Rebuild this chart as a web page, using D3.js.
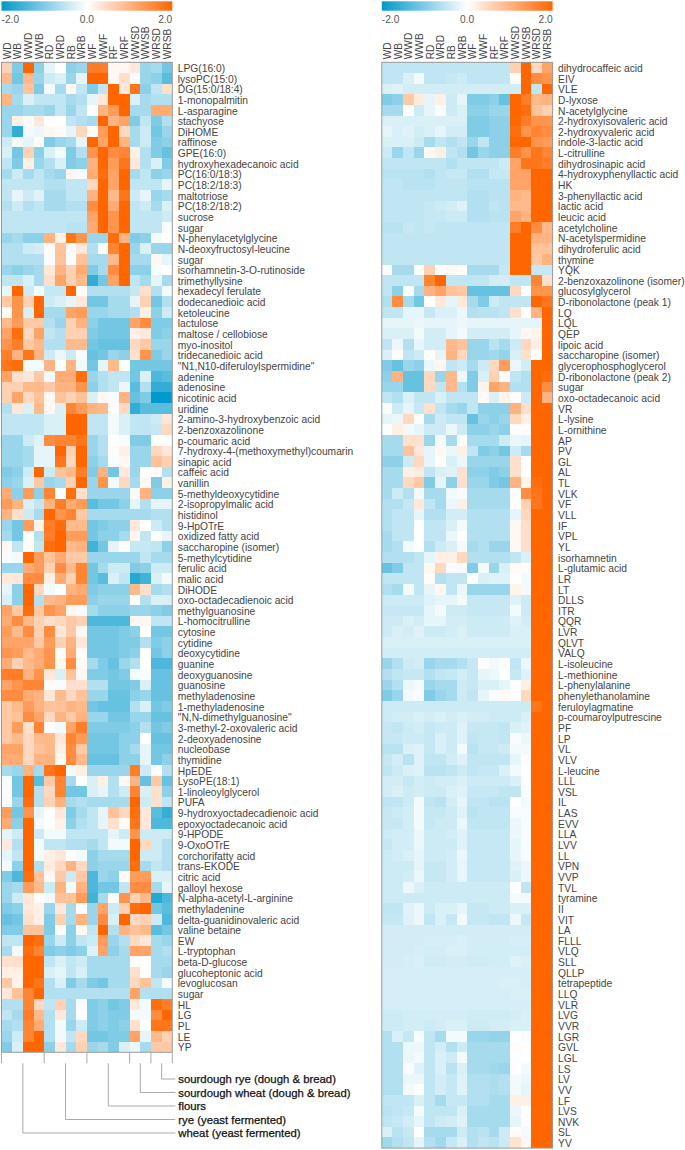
<!DOCTYPE html>
<html>
<head>
<meta charset="utf-8">
<script src="https://cdnjs.cloudflare.com/ajax/libs/d3/7.8.5/d3.min.js"></script>
<style>
  body { margin: 0; background: #fff; }
  svg { display: block; }
  text { font-family: "Liberation Sans", Arial, sans-serif; }
</style>
</head>
<body>
<svg id="chart" width="685" height="1150"></svg>
<script>
const columns = ['WD', 'WB', 'WWD', 'WWB', 'RD', 'WRD', 'RB', 'WRB', 'WF', 'WWF', 'RF', 'WRF', 'WWSD', 'WWSB', 'WRSD', 'WRSB'];
const legendTicks = [-2, 0, 2];
const groupNames = ['wheat (yeast fermented)', 'rye (yeast fermented)', 'flours', 'sourdough wheat (dough & bread)', 'sourdough rye (dough & bread)'];
const groupColumns = [['WD', 'WWB'], ['RD', 'WRB'], ['WF', 'WRF'], ['WWSD', 'WWSB'], ['WRSD', 'WRSB']];

const leftLabels = ['LPG(16:0)', 'lysoPC(15:0)', 'DG(15:0/18:4)', '1-monopalmitin', 'L-asparagine', 'stachyose', 'DiHOME', 'raffinose', 'GPE(16:0)', 'hydroxyhexadecanoic acid', 'PC(16:0/18:3)', 'PC(18:2/18:3)', 'maltotriose', 'PC(18:2/18:2)', 'sucrose', 'sugar', 'N-phenylacetylglycine', 'N-deoxyfructosyl-leucine', 'sugar', 'isorhamnetin-3-O-rutinoside', 'trimethyllysine', 'hexadecyl ferulate', 'dodecanedioic acid', 'ketoleucine', 'lactulose', 'maltose / cellobiose', 'myo-inositol', 'tridecanedioic acid', '"N1,N10-diferuloylspermidine"', 'adenine', 'adenosine', 'nicotinic acid', 'uridine', '2-amino-3-hydroxybenzoic acid', '2-benzoxazolinone', 'p-coumaric acid', '7-hydroxy-4-(methoxymethyl)coumarin', 'sinapic acid', 'caffeic acid', 'vanillin', '5-methyldeoxycytidine', '2-isopropylmalic acid', 'histidinol', '9-HpOTrE', 'oxidized fatty acid', 'saccharopine (isomer)', '5-methylcytidine', 'ferulic acid', 'malic acid', 'DiHODE', 'oxo-octadecadienoic acid', 'methylguanosine', 'L-homocitrulline', 'cytosine', 'cytidine', 'deoxycytidine', 'guanine', 'deoxyguanosine', 'guanosine', 'methyladenosine', '1-methyladenosine', '"N,N-dimethylguanosine"', '3-methyl-2-oxovaleric acid', '2-deoxyadenosine', 'nucleobase', 'thymidine', 'HpEDE', 'LysoPE(18:1)', '1-linoleoylglycerol', 'PUFA', '9-hydroxyoctadecadienoic acid', 'epoxyoctadecanoic acid', '9-HPODE', '9-OxoOTrE', 'corchorifatty acid', 'trans-EKODE', 'citric acid', 'galloyl hexose', 'N-alpha-acetyl-L-arginine', 'methyladenine', 'delta-guanidinovaleric acid', 'valine betaine', 'EW', 'L-tryptophan', 'beta-D-glucose', 'glucoheptonic acid', 'levoglucosan', 'sugar', 'HL', 'LG', 'PL', 'LE', 'YP'];

const rightLabels = ['dihydrocaffeic acid', 'EIV', 'VLE', 'D-lyxose', 'N-acetylglycine', '2-hydroxyisovaleric acid', '2-hydroxyvaleric acid', 'indole-3-lactic acid', 'L-citrulline', 'dihydrosinapic acid', '4-hydroxyphenyllactic acid', 'HK', '3-phenyllactic acid', 'lactic acid', 'leucic acid', 'acetylcholine', 'N-acetylspermidine', 'dihydroferulic acid', 'thymine', 'YQK', '2-benzoxazolinone (isomer)', 'glucosylglycerol', 'D-ribonolactone (peak 1)', 'LQ', 'LQL', 'QEP', 'lipoic acid', 'saccharopine (isomer)', 'glycerophosphoglycerol', 'D-ribonolactone (peak 2)', 'sugar', 'oxo-octadecanoic acid', 'VR', 'L-lysine', 'L-ornithine', 'AP', 'PV', 'GL', 'AL', 'TL', 'VLK', 'VF', 'VLL', 'IF', 'VPL', 'YL', 'isorhamnetin', 'L-glutamic acid', 'LR', 'LT', 'DLLS', 'ITR', 'QQR', 'LVR', 'QLVT', 'VALQ', 'L-isoleucine', 'L-methionine', 'L-phenylalanine', 'phenylethanolamine', 'feruloylagmatine', 'p-coumaroylputrescine', 'PF', 'LP', 'VL', 'VLV', 'L-leucine', 'LLL', 'VSL', 'IL', 'LAS', 'EVV', 'LLA', 'LVV', 'LL', 'VPN', 'VVP', 'TVL', 'tyramine', 'II', 'VIT', 'LA', 'FLLL', 'VLQ', 'SLL', 'QLLP', 'tetrapeptide', 'LLQ', 'VLR', 'LVG', 'VVR', 'LGR', 'GVL', 'LGL', 'LS', 'LV', 'VV', 'LF', 'LVS', 'NVK', 'SL', 'YV'];

// z-scores, one row per metabolite
const leftValues = [
  [.6,-1,2,-.9,-.2,0,-.9,-.8,1.7,1.7,.1,.1,.3,-.8,-.7,-1.1],
  [.9,-1.1,.9,-.8,-.4,-.3,-.8,-.2,2,2,.1,.4,.05,-.8,-.9,-1.3],
  [-.7,-.8,.8,-1,-.1,-.7,.1,-.5,-1,-.5,2,.3,1.8,-.9,-.5,.4],
  [1,-.7,-.3,-.5,-.5,-.5,-.7,-.6,-.2,.3,2,2,-.3,-.7,-.6,-.6],
  [-.8,-.8,-.7,-.7,-.8,-.5,-.8,-.5,0,1,1.3,2,-.7,-.7,1.1,1.1],
  [-.8,.2,-.05,.3,0,0,-.5,-.6,-.7,2,1,1.2,-1,-.5,-1,-.6],
  [-.8,-1.6,-.1,-.15,.1,.05,-.2,.5,.05,1.3,2,.5,-.7,-.4,-1.1,-.8],
  [-.4,-.1,-.2,.02,-1,-.8,-.7,-.2,2,1.2,2,1,-.7,-.4,-1,-.9],
  [-.3,-1.1,.6,-.9,-.3,-.1,-1,-.6,1.4,2,1.5,1.6,.2,-.6,-1,-1.2],
  [-.5,-1,.2,-.8,-.6,-.3,-1,-.9,1,2,1.3,1.8,.3,-.6,-.3,-1],
  [-.7,-.4,-.7,-.5,-.7,-.8,.1,-.05,1.1,1.9,1.2,2,-.7,-.5,-.9,-.8],
  [-.5,-.5,-.5,-.5,-.6,-.6,-.5,-.5,.5,2,1.2,2,-.5,-.5,-.5,-.2],
  [-.5,-.2,-.4,-.25,-.7,-.7,-.5,-.5,1,2,.9,1.8,-.4,-.2,-.8,-.7],
  [-.6,-.4,-.6,-.5,-.7,-.7,-.6,-.6,1.5,2,1.1,2,-.5,-.4,-.7,-.3],
  [-.5,-.5,-.5,-.5,-.5,-.5,-.5,-.5,1.2,2,1.4,2,-.5,-.5,-.5,-.4],
  [-.5,-.5,-.5,-.5,-.5,-.5,-.55,-.55,1.1,2,1.4,2,-.5,-.5,-.5,-.05],
  [-.8,-.7,-.9,-.9,1,.2,1.8,1.4,-.8,-.8,1.9,1,-1,-.9,-.1,0],
  [-.6,-.6,-.4,-.35,.05,.8,-.05,.3,-.6,-.05,1.6,2,-.8,-.3,-.8,-.8],
  [-.6,-.6,-.6,-.6,-.05,.8,-.02,.8,-.7,-.7,.9,2,-.7,-.7,.1,-.2],
  [-.8,-.9,-.8,-.7,.3,1,.6,1.1,-1,-.7,1.5,2,-.9,-.9,-.05,0],
  [-.5,-.5,-.3,-.7,.4,1.2,.6,.9,-1.6,-1.1,1.2,2,-.5,-.7,-.2,-.7],
  [-.2,2,-.4,-.1,-.45,-.45,2,.05,-.6,-.6,-.6,-.6,-.45,.4,-.6,-.1],
  [.7,1.4,.6,2,-.4,-.3,-.2,.3,-1.1,-1.1,-.7,-.7,-.2,.6,-1.1,-.6],
  [.05,1.4,-.3,2,-.7,-.7,1.2,1.3,-.8,-.8,-.7,-.7,-.6,.2,-.9,-.4],
  [.9,1.3,.7,.7,-.6,-.8,.6,1,-.9,-1.1,-1.1,-1.1,1.2,1.5,-1,-1],
  [1.2,1.9,.5,1.2,-.5,-.6,.6,.6,-1,-1.1,-1.1,-1.1,.2,.3,-1,-.9],
  [1.4,1.7,.7,.9,-.6,-.6,.9,.9,-1.1,-1.2,-1.2,-1.2,.5,.7,-.8,-.8],
  [1.7,1,1.8,1,-.4,-.15,-.4,-.05,-1.2,-1.1,-.8,-.9,.4,1.4,-1,-.8],
  [1.8,1.9,-.1,-.1,1,0,1,-.1,-1.1,-.2,.9,0,-1.1,-1.1,-1.1,-1.1],
  [1.2,.4,.3,.7,-.1,1.1,1.1,1.9,-.8,-.6,-.5,-.5,-1.1,-.3,-1.4,-1.3],
  [.6,.6,.9,.9,.7,1,1,1.4,-.9,-.6,-.5,-.15,-1.3,-.6,-1.6,-1.6],
  [.6,1.2,.5,.8,.1,.8,.6,.8,-.3,.1,-.05,1,-1.2,-1,-2,-2],
  [-.6,.3,-.3,.9,.1,-.3,1.6,1.3,1,.9,.05,.5,-1.6,-1.3,-1.3,-1.3],
  [-.5,-.5,-.5,-.5,-.3,-.3,2,2,-.5,-.5,-.1,-.3,-.5,-.5,-.4,.3],
  [-.5,-.5,-.5,-.5,-.3,-.3,2,2,-.5,-.5,-.1,-.3,-.5,-.5,-.45,.5],
  [-.8,-.8,-.4,-.25,1.5,1.6,1.6,1.8,-.8,-.6,0,-.05,-1,-1,0,0],
  [-.8,-.8,-.7,-.2,-.2,2,.6,2,-.8,-.6,.02,.2,-.8,-.8,.5,.3],
  [-.8,-.8,-.7,-.2,-.2,1.8,.5,2,-.9,-.7,-.05,.1,-.8,-.8,.8,.6],
  [-1,-.9,-.4,2,-.4,.8,.9,1.7,-1,1,-1.1,.3,-.8,0,.05,-.6],
  [-.9,-.8,-.3,.7,-.8,-.7,.6,2,-.8,1.4,-.1,.5,-.7,.1,-1,.2],
  [1.1,-.9,1.3,-.9,1.6,0,1.9,.4,-.8,-.8,-.8,-.8,-.05,1,-.9,-.9],
  [1.3,1,-.3,-.5,1,1.7,1.1,1.3,-1.3,-1.1,-1.1,-.9,-.2,-.6,-.2,-.2],
  [1,.4,-.4,-.7,2,1.4,1.6,.7,-.7,-.7,-.7,-.7,-.7,-.7,-.6,-.6],
  [-.8,-1.1,1.3,.15,1.7,1.9,.9,.9,-1.1,-1,-.9,-.9,.3,0,-.4,-.6],
  [-.7,-1.1,.02,-.6,1.7,2,1.3,1.3,-1.1,-.9,-.9,-.7,.1,-.5,0,-.2],
  [.1,-.5,.02,-.5,1.9,2,.9,1,-1.5,-1.1,-.2,.05,-.45,-.45,-.5,-.9],
  [-.05,-.1,2,1.3,.8,1.1,.7,.7,-.8,-.8,-.8,-.8,-.8,-.5,-.7,-.7],
  [-.8,-.8,1.1,1.3,.6,1.5,.9,1.6,-1.1,-.7,-.4,-.4,-1,-.9,-.4,-.4],
  [.3,.3,1.5,1.5,.2,1.1,.6,1.6,-1.1,-1.3,-.3,-.5,-1.7,-1.5,-.3,-.1],
  [-.2,-.9,2,.5,-.1,0,1,1.1,-1,-.9,-.9,-.9,.9,.4,-.7,-.6],
  [-.3,-.9,2,-.6,.9,1,1.3,1.3,-.9,-.8,-.8,-.8,0,-.6,-.3,-.3],
  [1.2,.7,1.9,.7,1.4,1.2,.1,-.05,-.7,-.9,-.9,-.9,-.8,-.8,-.9,-1],
  [1.1,1.5,.9,.6,.4,.5,.7,.6,-1.4,-1.4,-1.4,-1.4,.1,.1,-.5,-.5],
  [1.3,.9,1.5,.6,1.5,.3,.7,.1,-1.1,-1.1,-1.1,-1,-.9,0,-1.1,-1.1],
  [1.2,1.2,1.2,.7,1.3,.6,1,.3,-1.1,-1.1,-1.1,-1,-1,-.6,-1,-.9],
  [1.4,1.3,.9,1.1,1.4,-.02,1.1,.02,-1.1,-1.1,-1.1,-1,-.9,0,-1.1,-.9],
  [1.1,.6,.9,1.1,1.4,.1,1.5,.05,-.7,-1,-1.2,-.8,-.6,0,-1.4,-1.4],
  [1.7,1.7,1,1.4,.3,-.3,.8,.1,-1,-1,-1.1,-1,-.1,-.05,-1.2,-1.2],
  [1.2,1.4,1.6,1.6,.05,-.05,.4,.4,-.6,-.6,-1.1,-1.1,-1,-.3,-1.2,-1.2],
  [1.5,1.5,1.1,1,.3,.9,.5,.8,-.8,-.8,-1.2,-1.2,-.9,-.8,-1.2,-1.2],
  [.7,.9,1.3,1,.8,.8,1,.9,-1.1,-1.2,-1.2,-1.2,-.6,-.3,-1.1,-1],
  [.7,.8,1.5,1.2,.5,1,.7,1,-.8,-.8,-1.1,-1.1,-.8,-.8,-1.2,-1.2],
  [.7,1.3,.4,1.6,.03,-.1,1.2,1.7,-1,-1,-1,-1,-.9,-.6,-1.1,-1],
  [.7,.9,.5,.9,.9,.3,1.6,1.3,-1.1,-1.1,-1.1,-.9,-.9,0,-1.2,-1.2],
  [1.2,1.2,.5,.8,.9,.2,1.5,.7,-1.1,-1.1,-1.1,-.9,-.7,-.2,-1.1,-1.1],
  [1.1,1.1,.5,1,1,.1,1.5,.9,-1.2,-1.2,-1.2,-.9,-.9,-.2,-1.1,-.9],
  [-.7,-.8,1,-.7,1.8,2,-.1,.2,-.8,-.8,-.8,-.8,1.7,-.4,.02,-.6],
  [-.05,-1.1,2,-1.3,.7,1.6,-.7,0,-.3,.2,-.6,.1,1,-1.2,.7,-1.2],
  [.03,-1.1,2,-.6,.5,1.6,-1.1,-1.1,-.3,-.2,-.6,-.4,1.6,-.3,.4,-.9],
  [-.05,-.8,1.9,-.6,.6,1,-.7,-.6,-.7,-.7,-.7,-.7,2,-.4,.4,-.5],
  [1.3,-1.1,1.4,-.2,0,.3,-1,-.7,-.5,-.2,.8,.5,1.9,.3,-1.3,-1.6],
  [1.1,-.9,2,-.1,-.03,.2,-.9,-.6,-.5,-.2,.4,.05,1.8,.3,-1.4,-1.4],
  [-.2,-.4,2,-.4,-.1,-.1,-.5,-.5,-.5,-.5,-.2,-.4,1.4,-.4,-.4,-.4],
  [.3,-.6,2,-.1,-.5,-.5,-.6,-.6,-.7,-.5,-.1,-.1,2,.5,-.4,-.6],
  [-.2,-.5,2,-.1,.2,.3,0,-.1,-.9,-.7,-.7,-.7,2,-.4,-.4,-.6],
  [-.1,-.9,2,-.6,.25,.5,1,.5,-.9,-.8,-.8,-.8,1.9,-.7,-.5,-.6],
  [-1,-1.4,1.9,.8,.1,.7,-.4,.7,-1.4,-.8,-.9,.05,1.3,1.3,-.3,-.3],
  [-.8,-.7,1.3,.9,-.4,1,-.1,1,-1.4,-1.1,-1.1,-.5,1.5,1.5,-.7,-.2],
  [-.8,-.4,.3,.02,-.1,.8,.8,1.3,-1.5,-.7,.03,1.4,.6,.9,-1.7,-1.4],
  [-1,-.9,.3,.2,-.8,.3,-.7,0,-.8,1.2,-.4,.6,1.9,2,-1.1,-1.3],
  [-1.2,-1.1,.4,.2,-1,.6,-.7,1,-.8,1.5,-.3,2,.5,.6,-.4,-1.4],
  [-1,-1,.8,.8,-1,.03,-.9,.1,-.5,2,-.6,1,.8,.9,-1.3,-1.1],
  [-.5,-.5,2,1.9,-.8,-.4,-.9,-.5,-.4,1.3,-.8,-.6,.5,.3,-.7,-.8],
  [-.7,-.1,1.9,1.6,-1,-.9,-1,-.9,-.25,1.2,-.9,-.7,1.2,1.2,-.7,-.6],
  [.4,.4,2,2,-.5,-.3,-.5,-.4,-.7,-.7,-.7,-.7,.02,0,-.7,-.7],
  [.2,.2,2,2,-.3,-.2,-.5,-.3,-.7,-.7,-.7,-.7,.4,.03,-.7,-.8],
  [.7,.15,2,1.8,-.6,-.3,-1,-.7,-1,-1.1,-.7,-.7,.5,.8,-.5,-.1],
  [.3,.8,1.6,2,-.6,-.6,-.6,-.6,-.6,-.6,-.6,-.6,1.2,-.6,-.6,-.6],
  [-.6,-.6,1.6,.5,-.5,.6,-.7,-.05,-1,-.9,-1.1,-1,.3,-.1,1.9,1.7],
  [-.5,-.7,1.7,.9,-.6,.3,-.7,0,-1,-.9,-1,-1,-.1,-.1,1.5,2],
  [-.7,-.6,1.6,1.1,-.6,-.1,-.8,-.4,-1,-.9,-1,-.9,.4,-.02,1.8,1.8],
  [-.8,-.4,1.6,2,-.6,-.1,-.5,.5,-1.1,-1.1,-1,-1,1.2,-.2,.9,.6],
  [-1,-.3,2,2,-.9,.3,-.7,.6,-.8,-.7,-1,-.3,-.15,-.7,.7,.7]
];

const rightValues = [
  [-.5,-.5,-.5,-.5,-.5,-.5,-.5,-.5,-.5,-.5,-.5,-.5,.6,2,.5,1.2],
  [-.5,-.5,-.3,-.1,-.5,-.5,-.45,-.4,-.5,-.5,-.5,-.5,.05,2,1.5,1.4],
  [-.3,-.25,-.35,-.35,-.35,-.35,-.35,-.35,-.35,-.35,-.35,-.35,-.35,2,-.5,2],
  [-1,-.9,.7,.25,-.2,.2,-.4,-.2,-1,-1,-.9,-1.2,2,1.7,.9,1],
  [-.7,-.7,0,-.4,-.2,-.05,-.4,-.3,-.9,-.9,-.8,-.8,2,1.9,.8,.6],
  [-.3,-.3,-.3,-.3,-.3,-.3,-.3,-.3,-1,-1,-.9,-.9,2,1.7,1.4,1.4],
  [-.2,-.3,-.25,-.35,-.3,-.2,-.35,-.35,-1,-1,-.9,-.9,1.9,1.4,1.6,1.5],
  [-.3,-.3,-.3,-.4,-.7,-.5,-.6,-.5,-.8,-.5,-.9,-.9,2,2,1.4,1.3],
  [-.4,-.8,-.5,-.8,.1,.2,-.5,-.6,-1.1,-.8,-.9,-.9,1.7,1.4,1.8,1.6],
  [-.5,-.5,-.5,-.5,-.5,-.5,-.6,-.5,-.5,-.5,-.5,-.4,1.2,1.8,1.8,1.7],
  [-.55,-.55,-.55,-.55,-.6,-.5,-.45,-.45,-.6,-.6,-.45,-.45,1.2,1.2,2,2],
  [-.5,-.5,-.55,-.55,-.55,-.5,-.5,-.5,-.55,-.55,-.55,-.55,1.2,1.2,2,2],
  [-.5,-.5,-.5,-.5,-.5,-.5,-.5,-.5,-.6,-.6,-.55,-.55,1,.9,2,2],
  [-.5,-.5,-.5,-.5,-.45,-.4,-.35,-.25,-.6,-.6,-.5,-.55,.9,.9,2,2],
  [-.5,-.5,-.5,-.5,-.45,-.45,-.4,-.4,-.6,-.6,-.55,-.55,1.2,1,2,2],
  [-.55,-.55,-.45,-.5,-.45,-.5,-.5,-.5,-.5,-.5,-.5,-.5,1.7,2,1.5,.9],
  [-.5,-.5,-.5,-.5,-.5,-.5,-.5,-.5,-.5,-.5,-.5,-.5,2,2,1,1],
  [-.5,-.5,-.5,-.5,-.5,-.5,-.5,-.5,-.5,-.5,-.5,-.5,2,2,.8,.8],
  [-.5,-.5,-.5,-.5,-.5,-.5,-.5,-.5,-.5,-.5,-.5,-.5,2,2,.7,1],
  [-.03,-.7,-.7,-.02,.6,0,.1,.02,-.7,-.7,-.7,-.45,2,2,-.45,-.45],
  [-.5,-.5,-.5,-.5,1.6,2,-.5,-.5,-.5,-.5,-.35,-.35,-.5,-.5,1.6,.4],
  [-.5,-.9,-.03,-.7,1,1.2,.8,.7,-1.2,-1.2,-1.2,-1.2,.5,0,1.4,1.4],
  [-.6,1.5,-.7,-1.1,0,.3,-.2,.3,-.7,-1,-.4,-.5,-.5,-.5,2,1.8],
  [-.5,-.5,-.2,-.2,-.45,-.3,-.3,-.15,-.6,-.55,-.55,-.5,.4,.03,1,2],
  [-.2,-.2,-.2,-.15,-.2,-.2,-.2,-.15,-.2,-.2,-.2,-.2,-.2,-.2,-.2,2],
  [-.3,-.3,-.3,-.1,-.35,-.35,-.2,-.1,-.35,-.35,-.35,-.35,-.2,.1,.15,2],
  [-.5,-.15,-.6,-.2,-.35,-.35,.9,.8,-.8,-.8,-.55,-.7,-.4,.5,.2,2],
  [-.3,.05,-.5,-.4,.02,-.2,1,.5,-.8,-.8,-.75,-.85,-.3,.4,0,2],
  [-1,-1.2,-.8,-.9,-.15,.1,-.5,-.4,-.7,-.4,.5,1.3,-.15,-.35,2,2],
  [-.9,1,-1.2,-1.2,.5,-.8,.9,-.15,-1,-.3,.6,-.05,-.5,-.6,2,1.9],
  [-.8,-.8,-1.2,-1.2,.5,-.5,.9,-.6,-1,.15,1.2,1,-.6,-.6,2,1.5],
  [-.5,-.6,-.3,-.5,-.5,-.3,-.5,-.5,-.5,.07,-.3,.15,.03,-.4,2,1],
  [-.05,-.4,-.2,-.45,.4,-.5,-.7,-.8,-.5,-.9,-.9,-.9,1,.4,2,2],
  [-.2,-.15,.5,.02,-.7,-.4,-.5,-.5,-1.2,-.8,-.9,-.8,.5,.2,2,2],
  [-.03,.2,-.1,-.2,-.4,-.4,-.15,-.4,-.9,-.9,-.8,-.9,.02,.02,2,2],
  [-.7,-.7,.4,.4,-.8,-.1,-.7,.03,-.7,-.7,-.7,-.4,-.15,-.2,2,2],
  [-.7,-.7,.8,.3,-.2,.1,-.15,.2,-.5,-1,-.9,-1.1,-.4,-.7,2,2],
  [-.9,-.9,-.4,.5,-.2,.03,-.3,-.15,-.8,-.8,-.8,-.8,.4,0,2,2],
  [-.7,-.7,.2,.25,-.5,-.3,-.25,.4,-.9,-.9,-1,-.9,.4,0,2,2],
  [-.7,-.7,.5,.7,-1,-.2,-.9,.4,-.8,-.8,-1,-1.1,1,.15,1.9,2],
  [-.7,-.4,-.6,-.1,-.7,-.7,-.1,-.05,-.7,-.7,-.7,-.7,-.03,1.5,1.8,2],
  [-.6,-.6,-.45,.3,-.5,-.7,-.15,.2,-.7,-.7,-.7,-.7,0,.6,1.8,2],
  [-.6,-.5,-.5,-.2,-.6,-.6,-.35,-.35,-.6,-.6,-.6,-.6,-.2,.5,2,2],
  [-.6,-.5,-.5,0,-.5,-.5,-.3,-.1,-.6,-.6,-.6,-.6,.1,.4,2,2],
  [-.7,-.5,-.5,0,-.5,-.5,-.15,0,-.6,-.6,-.6,-.6,.1,.4,2,2],
  [-.7,-.6,-.1,0,-.6,-.4,-.3,-.1,-.7,-.6,-.8,-.8,.1,.4,2,2],
  [-.6,-.6,-.6,-.5,-.2,.2,.2,.5,-.6,-.6,-.6,-.6,-.5,-.3,2,2],
  [-1.2,-1,-.5,-.5,.1,.5,-.05,-.05,-1,-.1,-.8,-.3,.07,.05,2,2],
  [-.5,-.5,-.5,-.5,.05,-.6,-.5,-.5,0,-.3,-.25,-.25,0,-.1,2,2],
  [-.6,-.7,-.1,-.5,-.2,.1,-.5,-.15,-.8,-.8,-.8,-.8,.15,-.1,2,2],
  [-.4,-.4,-.4,-.4,-.25,-.2,-.2,-.1,-.45,-.45,-.45,-.45,-.25,-.4,2,2],
  [-.45,-.45,-.45,-.45,-.2,-.1,-.4,-.4,-.45,-.45,-.45,-.45,-.1,-.4,2,2],
  [-.4,-.4,-.3,-.35,-.2,-.2,-.35,-.35,-.4,-.4,-.4,-.4,-.25,-.35,2,2],
  [-.4,-.3,-.35,-.25,-.4,-.4,-.35,-.3,-.4,-.4,-.4,-.4,-.3,-.3,2,2],
  [-.3,-.3,-.3,-.3,-.3,-.3,-.3,-.3,-.3,-.3,-.3,-.3,-.3,-.3,2,2],
  [-.35,-.35,-.35,-.35,-.35,-.35,-.35,-.35,-.35,-.35,-.35,-.35,-.35,-.35,2,2],
  [-.8,-.6,-.4,-.35,-.8,-.7,-.7,-.6,-.45,.03,-.1,.05,-.5,-.15,2,2],
  [-.6,-.5,-.45,-.45,-.6,-.5,-.45,-.35,-.45,-.2,-.15,-.02,-.45,-.25,2,2],
  [-.8,-.6,-.15,-.1,-.8,-.7,-.7,-.4,-.45,-.3,-.3,-.2,-.03,.2,2,2],
  [-1,-.8,-.1,-.05,-1,-.8,-.7,-.4,-.5,-.2,-.05,.05,0,.5,2,2],
  [-.4,-.4,-.4,-.4,-.4,-.4,-.4,-.4,-.4,-.4,-.4,-.4,-.4,-.4,1.8,2],
  [-.4,-.35,-.35,-.3,-.35,-.3,-.35,-.3,-.35,-.35,-.4,-.4,-.4,-.3,2,2],
  [-.45,-.5,-.4,-.35,-.45,-.4,-.4,-.25,-.45,-.45,-.45,-.5,-.3,-.25,2,2],
  [-.45,-.45,-.4,-.4,-.45,-.3,-.4,-.25,-.5,-.45,-.45,-.5,-.05,-.15,2,2],
  [-.55,-.55,-.3,-.25,-.45,-.3,-.4,-.1,-.55,-.45,-.45,-.4,-.1,-.1,2,2],
  [-.45,-.35,-.55,-.25,-.5,-.5,-.35,-.25,-.5,-.5,-.5,-.5,-.2,.03,2,2],
  [-.5,-.4,-.3,-.25,-.55,-.55,-.5,-.4,-.5,-.45,-.45,-.3,-.1,0,2,2],
  [-.35,-.35,-.45,-.35,-.4,-.35,-.35,-.3,-.4,-.4,-.4,-.4,-.3,0,2,2],
  [-.35,-.3,-.4,-.35,-.4,-.4,-.3,-.25,-.45,-.45,-.45,-.5,-.5,-.05,2,2],
  [-.5,-.5,-.4,-.1,-.5,-.55,-.35,-.2,-.5,-.5,-.55,-.55,0,-.1,2,2],
  [-.45,-.4,-.35,-.1,-.45,-.45,-.4,-.25,-.55,-.5,-.5,-.5,-.05,-.05,2,2],
  [-.45,-.45,-.35,-.1,-.45,-.4,-.4,-.15,-.5,-.5,-.5,-.5,-.15,-.05,2,2],
  [-.4,-.35,-.35,-.15,-.4,-.4,-.35,-.25,-.45,-.45,-.45,-.45,-.15,-.05,2,2],
  [-.45,-.35,-.35,-.15,-.4,-.4,-.4,-.25,-.45,-.45,-.45,-.45,-.2,-.05,2,2],
  [-.4,-.35,-.3,-.2,-.4,-.4,-.35,-.15,-.45,-.45,-.45,-.45,-.2,-.05,2,2],
  [-.4,-.4,-.4,-.2,-.45,-.45,-.35,-.2,-.45,-.45,-.45,-.45,-.25,-.15,2,2],
  [-.4,-.4,-.35,-.15,-.45,-.45,-.35,-.2,-.45,-.45,-.45,-.45,-.3,-.15,2,2],
  [-.4,-.4,-.15,-.3,-.4,-.4,-.4,-.4,-.4,-.4,-.4,-.4,0,-.5,2,2],
  [-.4,-.4,-.4,-.4,-.4,-.4,-.4,-.4,-.4,-.4,-.4,-.4,-.08,-.1,2,2],
  [-.5,-.5,-.25,-.15,-.4,-.3,-.3,-.2,-.45,-.45,-.4,-.4,-.3,-.3,2,2],
  [-.45,-.45,-.25,-.15,-.5,-.3,-.45,-.1,-.45,-.45,-.5,-.5,-.15,-.45,2,2],
  [-.35,-.35,-.35,-.35,-.35,-.35,-.35,-.35,-.35,-.35,-.35,-.35,-.35,-.35,2,2],
  [-.35,-.35,-.35,-.35,-.33,-.33,-.33,-.3,-.35,-.35,-.35,-.35,-.33,-.33,2,2],
  [-.36,-.35,-.35,-.33,-.35,-.35,-.3,-.3,-.35,-.35,-.35,-.35,-.35,-.35,2,2],
  [-.35,-.35,-.33,-.3,-.38,-.38,-.35,-.35,-.38,-.38,-.36,-.36,-.25,-.3,2,2],
  [-.33,-.33,-.33,-.33,-.33,-.33,-.33,-.33,-.33,-.33,-.33,-.33,-.33,-.33,2,2],
  [-.33,-.33,-.33,-.33,-.33,-.33,-.33,-.33,-.33,-.33,-.33,-.3,-.3,-.33,2,2],
  [-.33,-.33,-.33,-.33,-.33,-.33,-.33,-.33,-.33,-.33,-.33,-.33,-.3,-.3,2,2],
  [-.33,-.33,-.33,-.33,-.33,-.33,-.33,-.33,-.33,-.33,-.33,-.33,-.33,-.33,2,2],
  [-.4,-.4,-.35,-.35,-.35,-.35,-.35,-.35,-.38,-.38,-.38,-.38,-.35,-.3,2,2],
  [-.4,-.4,-.35,-.35,-.4,-.35,-.3,-.3,-.4,-.4,-.35,-.35,-.3,-.3,2,2],
  [-.6,-.3,-.45,-.05,-.5,-.7,-.1,-.1,-.8,-.8,-.85,-.85,0,-.05,2,2],
  [-.6,-.6,-.15,-.15,-.5,-.35,-.6,-.4,-.7,-.7,-.7,-.7,.05,0,2,2],
  [-.6,-.6,-.15,-.1,-.5,-.3,-.4,-.1,-.7,-.7,-.7,-.7,-.03,0,2,2],
  [-.6,-.6,-.05,-.25,-.5,-.3,-.55,-.3,-.7,-.7,-.75,-.8,0,-.1,2,2],
  [-.6,-.6,-.15,-.15,-.5,-.35,-.45,-.25,-.6,-.6,-.65,-.6,-.1,-.15,2,2],
  [-.6,-.6,-.1,-.02,-.5,-.35,-.45,-.25,-.6,-.6,-.65,-.6,-.1,-.2,2,2],
  [-.5,-.5,-.5,-.3,-.5,-.7,-.45,-.45,-.6,-.6,-.7,-.7,.2,.2,2,2],
  [-.55,-.5,-.45,-.1,-.5,-.5,-.5,-.3,-.7,-.7,-.7,-.7,-.15,.03,2,2],
  [-.5,-.45,-.35,-.2,-.5,-.4,-.35,-.25,-.7,-.7,-.7,-.7,-.2,.03,2,2],
  [-.3,-.55,-.45,0,-.7,-.7,-.7,-.4,-.6,-.55,-.7,-.4,.05,-.1,2,2],
  [-.75,-.6,-.5,-.2,-.6,-.75,-.45,-.3,-.6,-.5,-.55,-.4,.35,.1,2,2]
];

const gridTop = 62.3, rowH = 10.645, panelW = 170.8, legendH = 9.4;
const labelColor = '#444', frameColor = '#999';

const color = d3.scaleLinear().domain([-2, 0, 2]).range(['#0099cc', '#ffffff', '#ff6600']);
const svg = d3.select('#chart');

// shared gradient for both colour bars
const grad = svg.append('defs').append('linearGradient').attr('id', 'legendGrad');
grad.selectAll('stop').
  data(legendTicks).
  join('stop').
  attr('offset', (d, i) => i / (legendTicks.length - 1)).
  attr('stop-color', d => color(d));

function drawPanel(left, labels, values) {
  const g = svg.append('g').attr('transform', 'translate(' + left + ',0)'),
    x = d3.scaleBand().domain(columns).range([0, panelW]),
    y = d3.scaleBand().domain(d3.range(labels.length)).range([gridTop, gridTop + rowH * labels.length]),
    legendScale = d3.scaleLinear().domain([-2, 2]).range([0, panelW]);

  // colour bar
  g.append('rect').
    attr('y', 1.3).
    attr('width', panelW).
    attr('height', legendH).
    attr('fill', 'url(#legendGrad)');
  g.selectAll('.legend-tick').
    data(legendTicks).
    join('text').
    attr('class', 'legend-tick').
    attr('x', d => legendScale(d)).
    attr('y', 22.5).
    attr('text-anchor', (d, i) => ['start', 'middle', 'end'][i]).
    attr('fill', '#555').
    style('font-size', '10.2px').
    text(d => d.toFixed(1));

  // cells
  g.append('g').
    selectAll('g').
    data(values).
    join('g').
    attr('transform', (d, i) => 'translate(0,' + y(i) + ')').
    selectAll('rect').
    data(d => d).
    join('rect').
    attr('x', (d, i) => x(columns[i])).
    attr('width', x.bandwidth()).
    attr('height', y.bandwidth()).
    attr('fill', d => color(d)).
    attr('shape-rendering', 'crispEdges');

  g.append('rect').
    attr('y', gridTop).
    attr('width', panelW).
    attr('height', rowH * labels.length).
    attr('fill', 'none').
    attr('stroke', frameColor);

  // column labels, rotated
  const colAxis = g.append('g').
    attr('transform', 'translate(0,' + gridTop + ')').
    call(d3.axisTop(x).tickSize(0));
  colAxis.select('.domain').remove();
  colAxis.selectAll('text').
    attr('transform', 'rotate(-90)').
    attr('x', 3).
    attr('y', 0).
    attr('dy', '0.36em').
    attr('text-anchor', 'start').
    attr('fill', labelColor).
    style('font-size', '10.2px').
    style('font-family', '"Liberation Sans", Arial, sans-serif');

  // metabolite labels
  const rowAxis = g.append('g').
    attr('transform', 'translate(' + panelW + ',0)').
    call(d3.axisRight(y).tickSize(0).tickPadding(5.5).tickFormat(i => labels[i]));
  rowAxis.select('.domain').remove();
  rowAxis.selectAll('text').
    attr('dy', '0.42em').
    attr('fill', labelColor).
    style('font-size', '10.25px').
    style('font-family', '"Liberation Sans", Arial, sans-serif');

  return {g, x, y};
}

const leftPanel = drawPanel(1.5, leftLabels, leftValues);
drawPanel(381.8, rightLabels, rightValues);

// group brackets and leader lines under the left panel
const lx = leftPanel.x, gridBottom = gridTop + rowH * leftLabels.length, tickEnd = gridBottom + 11;
const boundaries = [lx.range()[0]].concat(groupColumns.map(d => lx(d[1]) + lx.bandwidth()));
leftPanel.g.selectAll('.sep').
  data(boundaries).
  join('line').
  attr('class', 'sep').
  attr('x1', d => d).
  attr('x2', d => d).
  attr('y1', gridBottom).
  attr('y2', tickEnd).
  attr('stroke', '#aaa');

const leaderY = i => 1133 - i * 13.5;
const leaders = leftPanel.g.selectAll('.leader').
  data(groupNames).
  join('g').
  attr('class', 'leader');
leaders.append('path').
  attr('d', (d, i) => {
    const mid = (lx(groupColumns[i][0]) + lx(groupColumns[i][1]) + lx.bandwidth()) / 2;
    return 'M' + mid + ',' + tickEnd + 'V' + leaderY(i) + 'H' + (panelW + 3);
  }).
  attr('fill', 'none').
  attr('stroke', '#aaa');
leaders.append('text').
  attr('x', panelW + 6).
  attr('y', (d, i) => leaderY(i)).
  attr('dy', '0.36em').
  attr('fill', '#111').
  attr('stroke', '#111').
  attr('stroke-width', 0.25).
  style('font-size', '11.35px').
  text(d => d);
</script>
</body>
</html>
